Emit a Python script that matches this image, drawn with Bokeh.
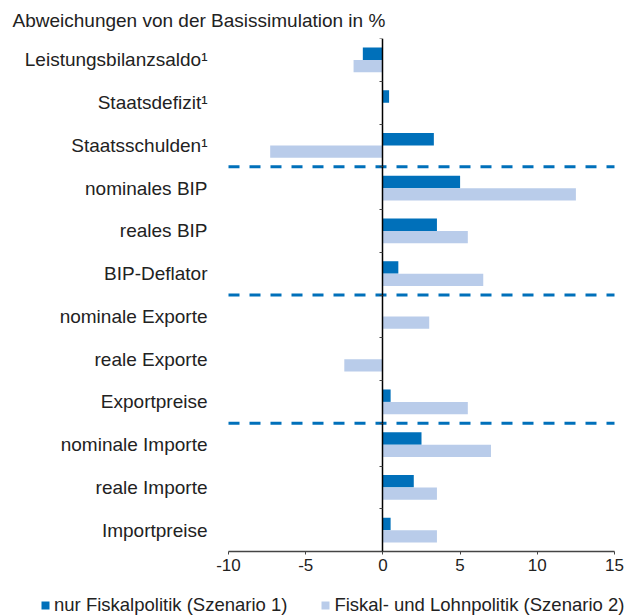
from bokeh.plotting import figure
from bokeh.layouts import column
from bokeh.models import Range1d, FixedTicker, LinearAxis, Legend, LegendItem
from bokeh.core.properties import value
from bokeh.embed import file_html
from bokeh.resources import INLINE

categories = ["Leistungsbilanzsaldo¹", "Staatsdefizit¹", "Staatsschulden¹",
              "nominales BIP", "reales BIP", "BIP-Deflator",
              "nominale Exporte", "reale Exporte", "Exportpreise",
              "nominale Importe", "reale Importe", "Importpreise"]
szenario1 = [-1.3, 0.4, 3.3, 5.0, 3.5, 1.0, 0.0, 0.0, 0.5, 2.5, 2.0, 0.5]
szenario2 = [-1.9, 0.0, -7.3, 12.5, 5.5, 6.5, 3.0, -2.5, 5.5, 7.0, 3.5, 3.5]
group_breaks = [3, 6, 9]
x_ticks = [-10, -5, 0, 5, 10, 15]
x_tick_labels = ["-10", "-5", "0", "5", "10", "15"]
series_names = ["nur Fiskalpolitik (Szenario 1)", "Fiskal- und Lohnpolitik (Szenario 2)"]
title_text = "Abweichungen von der Basissimulation in %"

C1 = "#0070BA"
C2 = "#B9CCEA"
TXT = "#222222"
FONT = "Liberation Sans"
FS = "19px"

# layout (pixels): axis -10 at x=228, 15 at x=614 in a 631 px wide frame
W = 631
PX_LEFT, PX_RIGHT = 228, 614
k = (PX_RIGHT - PX_LEFT) / (x_ticks[-1] - x_ticks[0])
x_start = x_ticks[0] - PX_LEFT / k
x_end = x_ticks[-1] + (W - PX_RIGHT) / k

n = len(categories)
idx = list(range(n))

p = figure(width=W, height=586, output_backend="svg", toolbar_location=None,
           x_range=Range1d(x_start, x_end),
           y_range=Range1d(n - 0.5, -0.5), y_axis_type=None,
           min_border_left=0, min_border_right=0, min_border_top=37, min_border_bottom=35)
p.outline_line_color = None
p.grid.grid_line_color = None
p.background_fill_color = "white"
p.border_fill_color = "white"

bh = 0.29
r1 = p.hbar(y=[i - bh / 2 for i in idx], left=0, right=szenario1, height=bh,
            fill_color=C1, line_color=None)
r2 = p.hbar(y=[i + bh / 2 for i in idx], left=0, right=szenario2, height=bh,
            fill_color=C2, line_color=None)

# category labels, right-aligned left of the -10 position
p.text(x=[x_ticks[0]] * n, y=idx, text=categories, text_align="right",
       text_baseline="middle", x_offset=-21, text_font=value(FONT),
       text_font_size=FS, text_color=TXT)

# separators between groups
yb = [b - 0.5 for b in group_breaks]
p.segment(x0=[x_ticks[0]] * len(yb), x1=[x_ticks[-1]] * len(yb), y0=yb, y1=yb,
          line_color=C1, line_width=3, line_dash="11 10")

# zero axis with ticks at category boundaries
zax = LinearAxis(fixed_location=0,
                 ticker=FixedTicker(ticks=[i - 0.5 for i in range(n + 1)]),
                 axis_line_color="black", axis_line_width=1.5,
                 major_tick_line_color="#444444", major_tick_out=3, major_tick_in=0,
                 minor_tick_line_color=None, major_label_standoff=0,
                 major_label_text_font_size="0px", major_label_text_color=None)
p.add_layout(zax, "left")

xa = p.xaxis[0]
xa.ticker = FixedTicker(ticks=x_ticks)
xa.bounds = (x_ticks[0], x_ticks[-1])
xa.major_label_overrides = {t: l for t, l in zip(x_ticks, x_tick_labels)}
xa.axis_line_color = "#444444"
xa.axis_line_width = 1.5
xa.major_tick_line_color = "#444444"
xa.major_tick_out = 3
xa.major_tick_in = 0
xa.minor_tick_line_color = None
xa.major_label_standoff = 4
xa.major_label_text_font = FONT
xa.major_label_text_font_size = "17px"
xa.major_label_text_color = TXT

p.title.text = title_text
p.title.align = "left"
p.title.offset = 12
p.title.text_font = FONT
p.title.text_font_size = FS
p.title.text_font_style = "normal"
p.title.text_color = TXT
p.title.standoff = 15

# legend strip
p2 = figure(width=W, height=30, output_backend="svg", toolbar_location=None,
            x_axis_type=None, y_axis_type=None, min_border=0,
            x_range=Range1d(0, 1), y_range=Range1d(0, 1))
p2.outline_line_color = None
p2.grid.grid_line_color = None
p2.background_fill_color = "white"
g1 = p2.hbar(y=[-5], left=[0], right=[1], height=0.1, fill_color=C1, line_color=None)
g2 = p2.hbar(y=[-5], left=[0], right=[1], height=0.1, fill_color=C2, line_color=None)
legend = Legend(items=[LegendItem(label=series_names[0], renderers=[g1]),
                       LegendItem(label=series_names[1], renderers=[g2])],
                orientation="horizontal", location=(40, 0),
                glyph_width=10, glyph_height=10, label_standoff=4, spacing=33,
                padding=0, margin=0, border_line_color=None, background_fill_alpha=0,
                label_text_font=FONT, label_text_font_size="18.5px", label_text_color=TXT)
p2.add_layout(legend, "center")

open("out.html", "w").write(file_html(column(p, p2), INLINE))
